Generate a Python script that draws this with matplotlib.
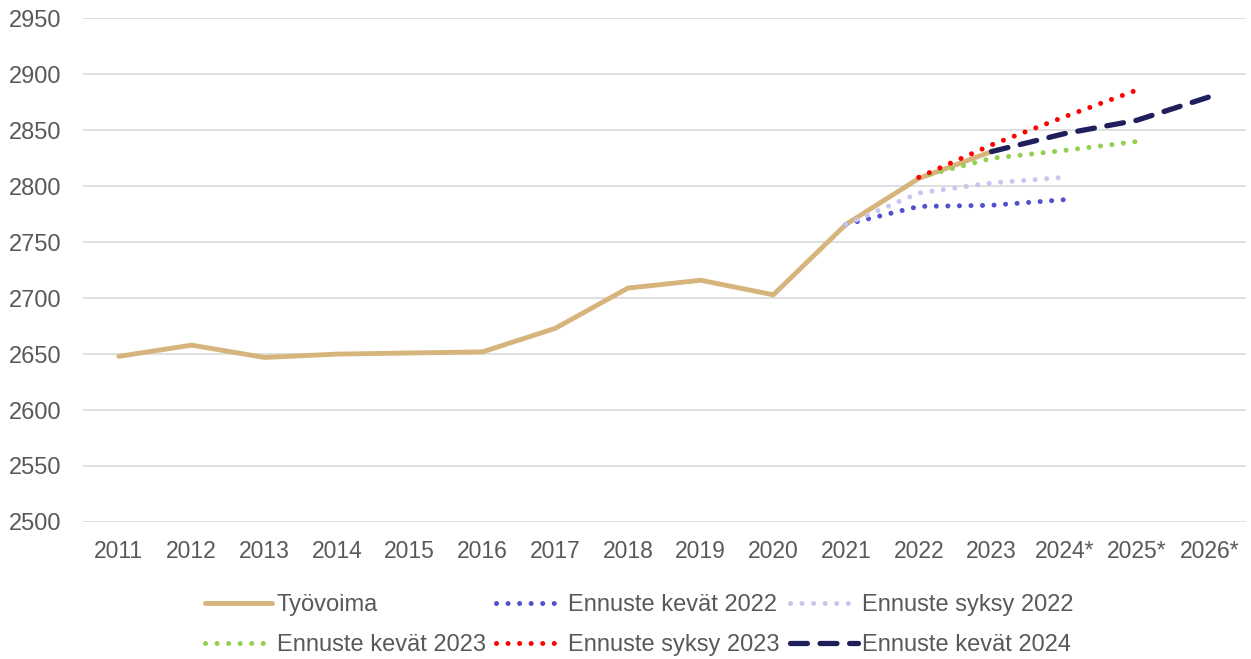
import matplotlib
matplotlib.use('Agg')
import matplotlib.pyplot as plt
import numpy as np

plt.rcParams['font.family'] = ['Liberation Sans', 'DejaVu Sans']

# Data
years = ['2011', '2012', '2013', '2014', '2015', '2016', '2017', '2018',
         '2019', '2020', '2021', '2022', '2023', '2024*', '2025*', '2026*']
tyovoima = [2648, 2658, 2647, 2650, 2651, 2652, 2673, 2709, 2716, 2703, 2766, 2807, 2831]

kevat2022_x = ['2021', '2022', '2023', '2024*']
kevat2022 = [2766, 2782, 2783, 2788]
syksy2022_x = ['2021', '2022', '2023', '2024*']
syksy2022 = [2766, 2794, 2803, 2808]
kevat2023_x = ['2022', '2023', '2024*', '2025*']
kevat2023 = [2808, 2825, 2832, 2840]
syksy2023_x = ['2022', '2023', '2024*', '2025*']
syksy2023 = [2808, 2837, 2862, 2886]
kevat2024_x = ['2023', '2024*', '2025*', '2026*']
kevat2024 = [2831, 2847, 2859, 2880]

text_col = '#595959'
grid_col = '#d9d9d9'

fig = plt.figure(figsize=(12.51, 6.59), dpi=100)
ax = fig.add_axes([0.066, 0.208, 0.930, 0.764])

pos = {y: i for i, y in enumerate(years)}
def xs(labels):
    return [pos[l] for l in labels]

dot = dict(linestyle=(0, (0.01, 2.3)), dash_capstyle='round', lw=3.6)

h_ty, = ax.plot(xs(years[:len(tyovoima)]), tyovoima, color='#D6B47C', lw=3.5,
                solid_capstyle='round', solid_joinstyle='round', label='Työvoima', zorder=2)
h_k22, = ax.plot(xs(kevat2022_x), kevat2022, color='#5151CF', label='Ennuste kevät 2022', zorder=3, **dot)
h_s22, = ax.plot(xs(syksy2022_x), syksy2022, color='#C9C5EE', label='Ennuste syksy 2022', zorder=3, **dot)
h_k23, = ax.plot(xs(kevat2023_x), kevat2023, color='#92D050', label='Ennuste kevät 2023', zorder=3, **dot)
h_s23, = ax.plot(xs(syksy2023_x), syksy2023, color='#FF0000', label='Ennuste syksy 2023', zorder=3, **dot)
h_k24, = ax.plot(xs(kevat2024_x), kevat2024, color='#1F1F5C', lw=3.8,
                 linestyle=(0, (3.2, 2.4)), dash_capstyle='round', label='Ennuste kevät 2024', zorder=4)

ax.set_xlim(-0.5, len(years) - 0.5)
ax.set_ylim(2500, 2950)
ax.set_yticks(np.arange(2500, 2951, 50))
ax.set_xticks(range(len(years)))
ax.set_xticklabels(years)
ax.grid(axis='y', color=grid_col, lw=1.2)
ax.set_axisbelow(True)
for s in ax.spines.values():
    s.set_visible(False)
ax.tick_params(axis='both', length=0, colors=text_col)
ax.tick_params(axis='x', pad=13, labelsize=16.5)
ax.tick_params(axis='y', pad=15.5, labelsize=17)

handles = [h_ty, h_k23, h_k22, h_s23, h_s22, h_k24]
leg = fig.legend(handles=handles, labels=[h.get_label() for h in handles],
                 ncol=3, loc='center', bbox_to_anchor=(0.511, 0.051), frameon=False,
                 fontsize=17, handlelength=2.85, handletextpad=0.2, columnspacing=0.45,
                 labelspacing=0.76)
for t in leg.get_texts():
    t.set_color(text_col)

fig.savefig('out.png', dpi=100)
